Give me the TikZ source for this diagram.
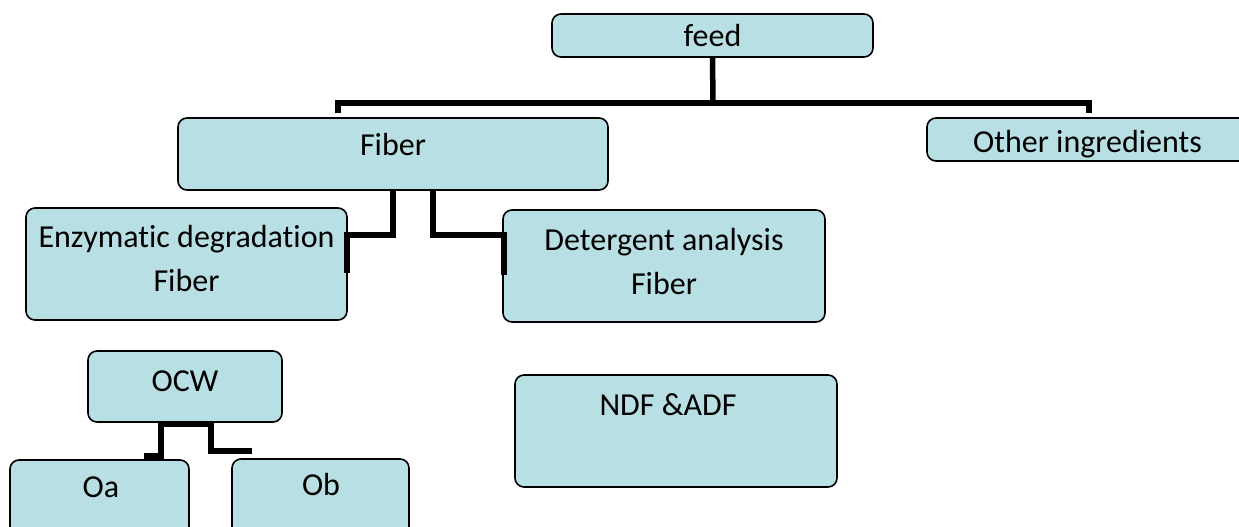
\documentclass[tikz,border=0pt]{standalone}
\usepackage{fontspec}
\setmainfont{Carlito}[Ligatures={NoCommon}]
\usetikzlibrary{calc,positioning}
\definecolor{boxfill}{RGB}{184,223,227}

\begin{document}
\begin{tikzpicture}[
  x=1pt, y=-1pt,
  box/.style ={draw, fill=boxfill, rounded corners=9pt, line width=1.6pt, inner sep=0pt},
  txt/.style ={font=\fontsize{32}{43}\selectfont, inner sep=0pt, anchor=base, align=center},
  conn/.style={line width=5.5pt, line join=miter},
]
\useasboundingbox (0,0) rectangle (1239,527);

% ======================= boxes =======================
\node[box, minimum width=321, minimum height=43]  (feed)  at (712.5,35.5) {};
\node[box, minimum width=430, minimum height=72]  (fiber) at (393,154)    {};
\node[box, minimum width=321, minimum height=43]  (other) at (1087.5,139.5) {};
\node[box, minimum width=321, minimum height=112] (enz)   at (186.5,264)  {};
\node[box, minimum width=322, minimum height=112] (det)   at (664,266)    {};
\node[box, minimum width=194, minimum height=71]  (ocw)   at (185,386.5)  {};
\node[box, minimum width=322, minimum height=112] (ndf)   at (676,431)    {};
\node[box, minimum width=179, minimum height=84]  (oa)    at (99.5,502)   {};
\node[box, minimum width=177, minimum height=84]  (ob)    at (320.5,501)  {};

% ======================= texts =======================
\node[txt] (feed-t)  at (712.5,47)  {feed};
\node[txt] (fiber-t) at (393,155)   {Fiber};
\node[txt] (other-t) at (1087.5,152) {Other ingredients};
\node[txt] (enz-t)   at (186.5,247) {Enzymatic degradation};
\node[txt] (enz-b)   at (186.5,291) {Fiber};
\node[txt] (det-t)   at (664,250)   {Detergent analysis};
\node[txt] (det-b)   at (664,294)   {Fiber};
\node[txt] (ocw-t)   at (185,391)   {OCW};
\node[txt] (ndf-t)   at (668,415)   {NDF \&ADF};
\node[txt] (oa-t)    at (101,497)   {Oa};
\node[txt] (ob-t)    at (321,495)   {Ob};

% ======================= connectors =======================
\coordinate (join) at (713,103);
\coordinate (barL) at (338,113);
\coordinate (barR) at (1089,113);
\draw[conn] (feed.south) -- (join);
\draw[conn] (barL) |- (join) -| (barR);

\coordinate (e1) at (347,235);
\coordinate (e2) at (347,273);
\draw[conn] (fiber.south) |- (e1) -- (e2);

\coordinate (d1) at (504,235);
\coordinate (d2) at (504,275);
\draw[conn] ($(fiber.south)+(40,0)$) |- (d1) -- (d2);

\coordinate (oaj) at (144,456);
\coordinate (obj) at (252,451);
\draw[conn] (oaj) -| ($(ocw.south)+(-24,1)$) -- ($(ocw.south)+(26,1)$) |- (obj);
\end{tikzpicture}
\end{document}
